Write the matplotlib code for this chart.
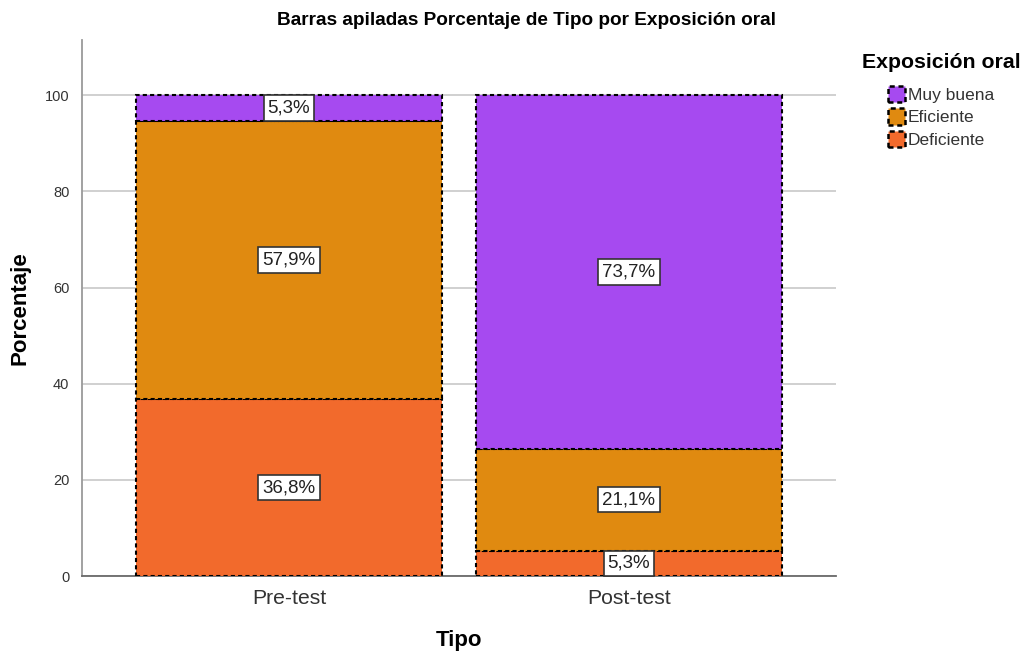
import matplotlib
matplotlib.use("Agg")
import matplotlib.pyplot as plt
from matplotlib.patches import Patch

plt.rcParams['font.family'] = ['Liberation Sans', 'DejaVu Sans']

categories = ["Pre-test", "Post-test"]
series_names = ["Deficiente", "Eficiente", "Muy buena"]
deficiente = [36.8, 5.3]
eficiente = [57.9, 21.1]
muy_buena = [5.3, 73.7]
colors = ["#F26A2C", "#E08A10", "#A64AF0"]

fig = plt.figure(figsize=(10.26, 6.51), dpi=100)
ax = fig.add_axes([0.0799, 0.1152, 0.7349, 0.8234])

x = list(range(len(categories)))
bottom = [0.0] * len(categories)
handles = []
for name, vals, c in zip(series_names, [deficiente, eficiente, muy_buena], colors):
    ax.bar(x, vals, width=0.9, bottom=bottom, color=c, edgecolor="black",
           linewidth=1.5, linestyle=(0, (2, 1.5)), zorder=3)
    for xi, v, b in zip(x, vals, bottom):
        ax.text(xi, b + v / 2, f"{v:.1f}%".replace(".", ","), ha="center", va="center",
                fontsize=13.5, color="#222222", zorder=5,
                bbox=dict(boxstyle="square,pad=0.22", fc="white", ec="#333333", lw=1.2))
    bottom = [b + v for b, v in zip(bottom, vals)]
    handles.append(Patch(facecolor=c, edgecolor="black", linewidth=1.8,
                         linestyle=(0, (2, 1.5)), label=name))

ax.set_xlim(-0.609, 1.609)
ax.set_ylim(0, 111.5)
ax.set_yticks([0, 20, 40, 60, 80, 100])
ax.set_xticks(x)
ax.set_xticklabels(categories, fontsize=15.2, color="#333333")
ax.tick_params(axis="y", labelsize=10.5, colors="#333333", length=0, pad=9)
ax.tick_params(axis="x", length=0, pad=9)
ax.yaxis.grid(True, color="#C8C8C8", linewidth=1.2, zorder=0)
ax.set_axisbelow(True)
for s in ["top", "right"]:
    ax.spines[s].set_visible(False)
ax.spines["left"].set_color("#9A9A9A")
ax.spines["bottom"].set_color("#6A6A6A")
ax.spines["left"].set_linewidth(1.3)
ax.spines["bottom"].set_linewidth(1.3)

ax.set_ylabel("Porcentaje", fontsize=16, fontweight="bold", labelpad=10)
ax.set_xlabel("Tipo", fontsize=16, fontweight="bold", labelpad=16)
ax.set_title("Barras apiladas Porcentaje de Tipo por Exposición oral",
             fontsize=13.7, fontweight="bold", x=0.5895, pad=11)

leg = fig.legend(handles=handles[::-1], loc="upper left", bbox_to_anchor=(0.840, 0.918),
                 title="Exposición oral", frameon=False, fontsize=12.5,
                 handlelength=0.95, handleheight=1.05, handletextpad=0.15,
                 labelspacing=0.3, borderaxespad=0, borderpad=0)
leg.get_title().set_fontweight("bold")
leg.get_title().set_fontsize(15.3)
leg._legend_box.sep = 10
for t in leg.get_texts():
    t.set_color("#333333")

fig.savefig("out.png", dpi=100)
